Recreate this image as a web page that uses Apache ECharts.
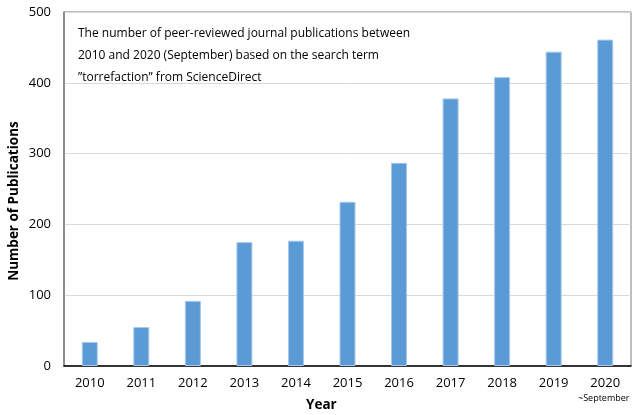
<!DOCTYPE html>
<html><head><meta charset="utf-8">
<script src="https://cdn.jsdelivr.net/npm/echarts@6/dist/echarts.min.js"></script>
<style>html,body{margin:0;padding:0;background:#fff}#c{width:632px;height:415px}</style>
</head><body><div id="c"></div>
<script>
var years = ['2010','2011','2012','2013','2014','2015','2016','2017','2018','2019','2020'];
var publications = [34, 55, 92, 175, 177, 232, 287, 378, 408, 444, 461];
var yTicks = [0, 100, 200, 300, 400, 500];
var noteLines = [
  'The number of peer-reviewed journal publications between',
  '2010 and 2020 (September) based on the search term',
  '\u201Dtorrefaction\u201D from ScienceDirect'
];
var FONT = 'Open Sans';
var chart = echarts.init(document.getElementById('c'));
chart.setOption({
  animation: false,
  grid: {left: 64, right: 1, top: 12, bottom: 49, show: true, borderColor: '#7f7f7f', borderWidth: 1, backgroundColor: 'transparent'},
  xAxis: {
    type: 'category', data: years,
    axisLine: {lineStyle: {color: '#000', width: 1.5}},
    axisTick: {show: false},
    axisLabel: {color: '#000', fontSize: 13, fontFamily: FONT, margin: 11}
  },
  yAxis: {
    type: 'value', min: yTicks[0], max: yTicks[yTicks.length-1], interval: 100,
    axisLine: {show: true, lineStyle: {color: '#7f7f7f', width: 1.5}},
    axisTick: {show: false},
    axisLabel: {color: '#000', fontSize: 13, fontFamily: FONT, margin: 13},
    splitLine: {lineStyle: {color: '#d9d9d9', width: 1}}
  },
  series: [{
    type: 'bar', data: publications, barWidth: 16,
    itemStyle: {color: '#5b9bd5', borderColor: '#a9c9ec', borderWidth: 1}
  }],
  graphic: [
    {type: 'text', left: 78, top: 23, style: {text: noteLines.join('\n'), fontSize: 12, fontFamily: FONT, fill: '#000', lineHeight: 22}},
    {type: 'text', x: 14, y: 201, rotation: Math.PI / 2, style: {text: 'Number of Publications', fontSize: 13.5, fontWeight: 'bold', fontFamily: FONT, fill: '#000', align: 'center', verticalAlign: 'middle'}},
    {type: 'text', left: 306, top: 398, style: {text: 'Year', fontSize: 13.5, fontWeight: 'bold', fontFamily: FONT, fill: '#000'}},
    {type: 'text', left: 578, top: 394, style: {text: '~September', fontSize: 9, fontFamily: FONT, fill: '#000'}}
  ]
});
</script></body></html>
